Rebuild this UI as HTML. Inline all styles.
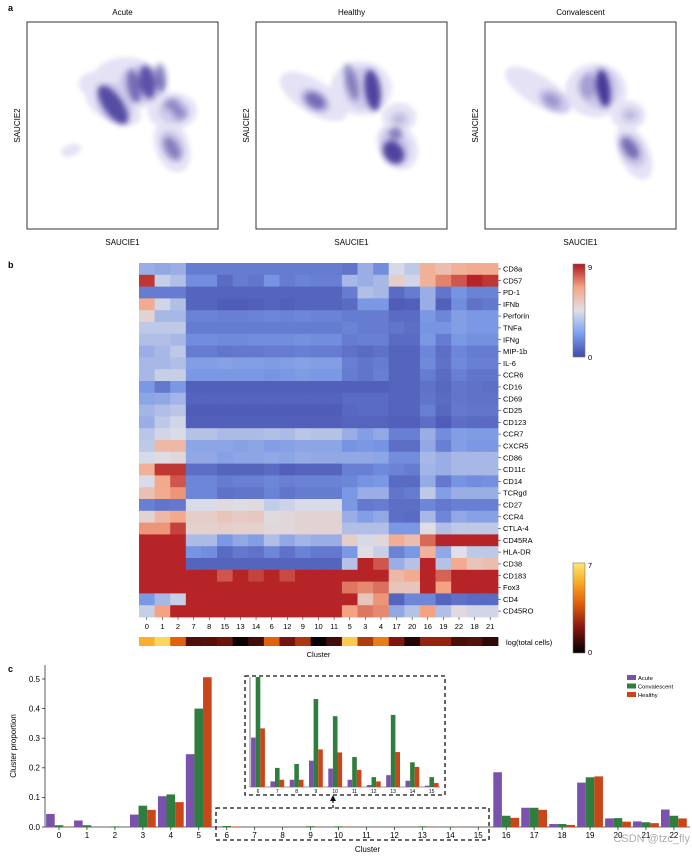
<!DOCTYPE html>
<html><head><meta charset="utf-8">
<style>
html,body{margin:0;padding:0;background:#fff;}
svg{display:block;font-family:"Liberation Sans",Arial,sans-serif;}
</style></head>
<body>
<svg id="fig" width="692" height="856" viewBox="0 0 692 856" xmlns="http://www.w3.org/2000/svg">
<defs>
<filter id="blurH" x="-50%" y="-50%" width="200%" height="200%"><feGaussianBlur stdDeviation="2.5"/></filter>
<filter id="blurC" x="-50%" y="-50%" width="200%" height="200%"><feGaussianBlur stdDeviation="3"/></filter>
<linearGradient id="cwGrad" x1="0" y1="1" x2="0" y2="0">
<stop offset="0" stop-color="#3f4aa8"/><stop offset="0.25" stop-color="#7b9ff0"/><stop offset="0.5" stop-color="#dedfe8"/><stop offset="0.75" stop-color="#f5a584"/><stop offset="1" stop-color="#b0171f"/>
</linearGradient>
<linearGradient id="hotGrad" x1="0" y1="1" x2="0" y2="0">
<stop offset="0" stop-color="#000000"/><stop offset="0.3" stop-color="#8b1a10"/><stop offset="0.55" stop-color="#e0600a"/><stop offset="0.78" stop-color="#f9a825"/><stop offset="1" stop-color="#ffe870"/>
</linearGradient>
</defs>
<text x="8" y="11" font-size="9" font-weight="bold">a</text>
<text x="8" y="268" font-size="9" font-weight="bold">b</text>
<text x="8" y="672" font-size="9" font-weight="bold">c</text>
<g id="density"></g>
<g id="heatmap"></g>
<g id="bars"></g>
</svg>
<script>
const NS="http://www.w3.org/2000/svg";
function mk(tag,attrs,parent,text){const e=document.createElementNS(NS,tag);for(const k in attrs)e.setAttribute(k,attrs[k]);if(text!==undefined)e.textContent=text;parent.appendChild(e);return e;}

/* ---------- Panel a: density plots ---------- */
const panelTitles=["Acute","Healthy","Convalescent"];
const panelX=[27,256,485];
/* [fx, fy, rx, ry, rot] */
const haloAcute=[[0.52,0.30,0.19,0.13,0],[0.45,0.40,0.16,0.08,30],[0.36,0.30,0.09,0.06,0],[0.76,0.43,0.13,0.09,0],[0.76,0.60,0.09,0.13,-20],[0.23,0.62,0.055,0.028,-20]];
const midAcute=[[0.46,0.39,0.09,0.1,-35],[0.6,0.3,0.12,0.09,0],[0.77,0.43,0.08,0.06,0],[0.76,0.6,0.06,0.08,-25]];
const coreAcute=[[0.45,0.40,0.05,0.11,-35,0.75],[0.56,0.31,0.035,0.08,-10,0.55],[0.63,0.29,0.04,0.08,-10,0.7],[0.7,0.27,0.03,0.07,-5,0.5],[0.76,0.40,0.04,0.03,0,0.35],[0.8,0.44,0.035,0.03,0,0.35],[0.76,0.61,0.035,0.06,-30,0.45]];
const haloHealthy=[[0.3,0.36,0.2,0.08,32],[0.55,0.32,0.16,0.13,0],[0.75,0.46,0.09,0.07,0],[0.74,0.6,0.1,0.12,-30]];
const midHealthy=[[0.31,0.38,0.09,0.05,32],[0.56,0.32,0.1,0.1,0],[0.73,0.6,0.07,0.09,-30]];
const coreHealthy=[[0.31,0.38,0.06,0.035,32,0.55],[0.5,0.29,0.03,0.09,-15,0.45],[0.61,0.33,0.04,0.1,-8,0.8],[0.75,0.47,0.04,0.03,0,0.2],[0.72,0.63,0.05,0.06,-35,0.8],[0.73,0.54,0.035,0.03,-30,0.45]];
const haloConv=[[0.28,0.33,0.2,0.07,32],[0.58,0.33,0.16,0.13,0],[0.75,0.45,0.09,0.07,0],[0.78,0.63,0.08,0.14,-25]];
const midConv=[[0.36,0.38,0.09,0.05,32],[0.6,0.32,0.1,0.1,0],[0.77,0.62,0.06,0.09,-30]];
const coreConv=[[0.35,0.38,0.05,0.03,32,0.3],[0.62,0.32,0.035,0.09,-8,0.85],[0.54,0.31,0.05,0.06,0,0.25],[0.76,0.45,0.04,0.03,0,0.2],[0.76,0.61,0.035,0.06,-35,0.55]];
const allHalo=[haloAcute,haloHealthy,haloConv],allMid=[midAcute,midHealthy,midConv],allCore=[coreAcute,coreHealthy,coreConv];
const dG=document.getElementById('density');
panelTitles.forEach((t,i)=>{
  const x0=panelX[i],y0=22,w=191,h=207;
  const g=mk('g',{},dG);
  
  
  const title=mk('text',{x:x0+w/2,y:15,'font-size':8,'text-anchor':'middle'},g,t);
  
  
  function layer(list,op,filt,col){
    const lg=mk('g',{filter:filt,opacity:op},g);
    list.forEach(b=>{
      const cx=x0+b[0]*w,cy=y0+b[1]*h;
      const el=mk('ellipse',{cx:cx,cy:cy,rx:b[2]*w,ry:b[3]*h,fill:col,'fill-opacity':b.length>5?b[5]:1,transform:`rotate(${b[4]} ${cx} ${cy})`},lg);
      
      
    });
  }
  layer(allHalo[i],0.16,'url(#blurH)','#5b4fc0');
  layer(allMid[i],0.14,'url(#blurH)','#4a3cb0');
  layer(allCore[i],1,'url(#blurC)','#2e1f8c');
  const box=mk('rect',{x:x0,y:y0,width:w,height:h,fill:'none',stroke:'#333','stroke-width':1},g);
  
  
  const xl=mk('text',{x:x0+w/2,y:245,'font-size':8,'text-anchor':'middle'},g,'SAUCIE1');
  
  
  const yl=mk('text',{x:0,y:0,'font-size':8,'text-anchor':'middle',transform:`translate(${x0-7},${y0+h/2}) rotate(-90)`},g,'SAUCIE2');
  
  
});

/* ---------- Panel b: heatmap ---------- */
const hmClusters=["0","1","2","7","8","15","13","14","6","12","9","10","11","5","3","4","17","20","16","19","22","18","21"];
const hmMarkers=["CD8a","CD57","PD-1","IFNb","Perforin","TNFa","IFNg","MIP-1b","IL-6","CCR6","CD16","CD69","CD25","CD123","CCR7","CXCR5","CD86","CD11c","CD14","TCRgd","CD27","CCR4","CTLA-4","CD45RA","HLA-DR","CD38","CD183","Fox3","CD4","CD45RO"];
const hmValues=[
[3,2.8,3,1.5,1.5,1.5,1.5,1.5,1.5,1.5,1.5,1.5,1.5,1.3,3,2,4.3,3.8,6.3,5.8,6.3,6.5,6.5],
[8.5,4,3.5,2,2,1,1.5,1.3,2.2,1.5,1.7,1.6,1.6,3.3,3,3.3,5.2,4.2,6.3,7.3,8,8.8,8.5],
[1.5,1.5,1.5,0.8,0.8,0.8,0.8,0.8,0.8,0.8,0.8,0.8,0.8,1.5,3.5,3.3,1,1.5,3,1.3,2.2,1.7,1.7],
[6.5,4.2,3.5,0.8,0.8,0.6,0.6,0.7,0.8,0.7,0.8,0.8,0.8,1,2.3,2.3,0.6,0.7,3,0.7,2,1.2,1.4],
[5,3.3,3.3,1.7,1.7,1.6,1.6,1.7,1.8,1.7,1.8,1.7,1.7,1.5,1.5,1.5,1,1,2.3,1.8,2.5,2.3,2.3],
[3.8,3.8,3.8,1.5,1.5,1.5,1.5,1.5,1.5,1.5,1.5,1.5,1.5,1.7,1.5,1.5,1.3,1.1,2.2,2.2,2.5,2.3,2.3],
[3.5,3.5,3.3,2,2,1.9,1.9,2,2,2,2.1,2,2,1.5,1.6,1.6,1,1,2.3,1.5,2.3,2.1,2.1],
[3,3.3,3.8,1.5,1.5,1.3,1.4,1.4,1.5,1.5,1.6,1.5,1.5,1.2,1,1.2,0.8,0.8,1.8,1.1,1.8,1.5,1.5],
[3.3,3.3,3.5,2.5,2.5,2.6,2.5,2.5,2.4,2.5,2.6,2.5,2.5,1.6,1.3,1.5,0.8,0.8,1.9,1.2,1.9,1.6,1.6],
[3.3,4,4,2.3,2.3,2.3,2.3,2.3,2.2,2.3,2.4,2.3,2.3,1.5,1.3,1.6,0.8,0.8,1.5,1,1.6,1.3,1.3],
[2.3,1.4,2.3,0.7,0.7,0.7,0.7,0.7,0.7,0.7,0.7,0.7,0.7,0.7,0.7,0.7,0.8,0.8,1.2,0.9,1.3,1.2,1.1],
[2.7,2.8,3.2,0.8,0.8,0.8,0.8,0.8,0.8,0.8,0.8,0.8,0.8,1,1,1,0.8,0.8,1.3,1,1.3,1.2,1.2],
[3.2,3.5,3.7,0.6,0.6,0.6,0.6,0.6,0.6,0.6,0.6,0.6,0.6,0.9,1,1,0.8,0.8,1.6,0.9,1.4,1.3,1.3],
[3,3.8,4.2,0.7,0.7,0.7,0.7,0.7,0.7,0.7,0.7,0.7,0.7,0.8,0.8,0.8,0.7,0.7,1.1,0.6,1.1,1,1],
[3.7,4.2,4.4,3.6,3.6,3.4,3.4,3.4,3.5,3.4,3.7,3.6,3.6,3,2.5,2.8,1.6,1.6,3,2,2.5,2.4,2.4],
[3.8,6,6,2.7,2.7,2.7,2.6,2.7,2.5,2.6,2.7,2.7,2.7,2.2,2.3,2.2,1.1,1.1,2.8,1.6,2.5,2.3,2.3],
[4.3,4.6,4.8,2.8,2.8,2.6,2.7,2.7,2.8,2.7,2.9,2.8,2.8,2.8,2.8,2.7,2,2,3.3,3,3.3,3.3,3.3],
[6.3,8.5,8.5,1.1,1.1,0.8,0.8,0.8,1,0.7,0.8,0.8,0.8,1.6,1.6,1.9,1.7,1.5,3.2,3,3.3,3.3,3.3],
[4.4,6.6,8,1.8,1.8,1.5,1.6,1.6,1.8,1.6,1.7,1.7,1.7,1.8,2.2,2.3,1,1,2.9,1.4,2.2,2,2.1],
[5.7,6.5,7,1.8,1.8,1.2,1.3,1.3,1.7,1.3,1.5,1.5,1.5,2.3,3,3,1.3,1.5,3.8,2.5,3,3,3],
[1.6,1.3,1.4,4.4,4.4,4.7,4.6,4.7,3.9,4.1,4.4,4.4,4.4,2.3,1.4,1.5,1.1,1.1,1.8,1.4,1.6,1.6,1.6],
[5,6,6.6,5.2,5.2,5.5,5.3,5.4,4.7,4.8,5,5,5,3,2.5,2.8,1.1,1,3.3,1.8,2.8,2.6,2.6],
[7,7,8.3,5.1,5.1,5.2,5.1,5.1,4.8,4.8,5,5,5,3.5,3.5,3.5,2.3,2.3,4.6,3.5,3.8,3.8,3.8],
[8.8,8.8,8.8,3.4,3.4,2.3,2.8,2.5,3.5,2.8,3.2,3,3,5.2,4.3,4.8,6.4,5.8,7.7,8.8,8.8,8.8,8.8],
[8.8,8.8,8.8,2.2,2,1,1.4,1.2,1.8,1.2,1.7,1.4,1.4,2.3,4.6,4,1.7,2.3,6.2,2.8,4.5,3.8,3.8],
[8.8,8.8,8.8,0.8,0.8,0.8,0.8,0.8,0.8,0.8,0.8,0.8,0.8,3.6,8.8,8,3,3.6,8.8,3.6,6.5,5.5,5.8],
[8.8,8.8,8.8,8.8,8.8,8,8.8,8.3,8.8,8.2,8.8,8.8,8.8,8.8,8.8,8.8,6,6.5,8.8,7.8,8.8,8.8,8.8],
[8.8,8.8,8.8,8.8,8.8,8.8,8.8,8.8,8.8,8.8,8.8,8.8,8.8,7.5,7.2,7.6,5.5,5.5,8.8,6.8,8.8,8.8,8.8],
[2.3,3.3,4,8.8,8.8,8.8,8.8,8.8,8.8,8.8,8.8,8.8,8.8,8.8,5.5,7,0.8,1.8,1.8,0.8,1.2,1,1],
[4,6.8,8.8,8.8,8.8,8.8,8.8,8.8,8.8,8.8,8.8,8.8,8.8,6.8,7.5,7.2,2.8,3.6,6.8,3.5,4.7,4.2,4.2]
];
const hmLogCells=[5.6,6.6,3.9,1.2,1.3,1.6,0.2,1.0,3.9,1.7,2.8,0.1,1.0,6.3,2.9,4.5,1.9,0.5,2.3,2.3,1.1,1.3,0.7];
const hmMax=9, logMax=7;
function lerpStops(stops,t){t=Math.max(0,Math.min(1,t));for(let i=1;i<stops.length;i++){if(t<=stops[i][0]){const a=stops[i-1],b=stops[i];const f=(t-a[0])/(b[0]-a[0]);const c=[0,1,2].map(k=>Math.round(a[1][k]+(b[1][k]-a[1][k])*f));return `rgb(${c[0]},${c[1]},${c[2]})`;}}return 'rgb(0,0,0)';}
const cw=[[0,[66,72,168]],[0.25,[120,150,228]],[0.5,[222,223,232]],[0.75,[245,165,132]],[1,[176,23,31]]];
const hot=[[0,[0,0,0]],[0.3,[139,26,16]],[0.55,[224,96,10]],[0.78,[249,168,37]],[1,[255,232,112]]];
const hG=document.getElementById('heatmap');
const hx0=139,hy0=263,hw=359,hh=354;
const nR=hmMarkers.length,nC=hmClusters.length;
const cellW=hw/nC,cellH=hh/nR;
function hmX(c){return hx0+c*cellW;}
function hmY(r){return hy0+r*cellH;}
hmValues.forEach((row,r)=>{
  row.forEach((v,c)=>{
    const rc=mk('rect',{x:hmX(c),y:hmY(r),width:cellW+0.4,height:cellH+0.4,fill:lerpStops(cw,v/hmMax)},hG);
    
    
  });
});
hmMarkers.forEach((m,r)=>{
  const y=hmY(r)+cellH/2;
  mk('line',{x1:hx0+hw,x2:hx0+hw+3,y1:y,y2:y,stroke:'#333','stroke-width':0.6},hG);
  const t=mk('text',{x:hx0+hw+5,y:y+2.6,'font-size':7.5},hG,m);
  
  
});
hmClusters.forEach((c,i)=>{
  const x=hmX(i)+cellW/2;
  mk('line',{x1:x,x2:x,y1:hy0+hh,y2:hy0+hh+3,stroke:'#333','stroke-width':0.6},hG);
  const t=mk('text',{x:x,y:hy0+hh+12,'font-size':7.5,'text-anchor':'middle'},hG,c);
  
  
  const rc=mk('rect',{x:hmX(i),y:637,width:cellW+0.4,height:9,fill:lerpStops(hot,hmLogCells[i]/logMax)},hG);
  
  
});
{
  const t=mk('text',{x:hx0+hw+8,y:645,'font-size':7.5},hG,'log(total cells)');
  
  
  const t2=mk('text',{x:hx0+hw/2,y:657,'font-size':7.5,'text-anchor':'middle'},hG,'Cluster');
  
  
  const cb1=mk('rect',{x:573,y:264,width:12,height:93,fill:'url(#cwGrad)',stroke:'#777','stroke-width':0.6},hG);
  
  
  mk('text',{x:588,y:270,'font-size':7.5},hG,'9');
  mk('text',{x:588,y:360,'font-size':7.5},hG,'0');
  const cb2=mk('rect',{x:573,y:563,width:12,height:90,fill:'url(#hotGrad)',stroke:'#777','stroke-width':0.6},hG);
  
  
  mk('text',{x:588,y:568,'font-size':7.5},hG,'7');
  mk('text',{x:588,y:655,'font-size':7.5},hG,'0');
}

/* ---------- Panel c: bar chart ---------- */
const barClusters=["0","1","2","3","4","5","6","7","8","9","10","11","12","13","14","15","16","17","18","19","20","21","22"];
const acuteVals=[0.044,0.022,0,0.042,0.104,0.246,0.0015,0.00017,0.00022,0.0008,0.00056,0.00022,0.00006,0.00036,0.00019,0.00004,0.185,0.065,0.010,0.150,0.029,0.019,0.059];
const convVals=[0.006,0.006,0.002,0.072,0.110,0.400,0.00334,0.00058,0.0007,0.00267,0.00215,0.00091,0.0003,0.00219,0.00075,0.0003,0.038,0.065,0.010,0.168,0.030,0.016,0.038];
const healthyVals=[0.001,0,0,0.058,0.084,0.506,0.00178,0.00022,0.00022,0.00114,0.00105,0.00052,0.00017,0.00106,0.00061,0.00012,0.031,0.058,0.007,0.171,0.018,0.013,0.029];
const yTicks=[0,0.1,0.2,0.3,0.4,0.5];
const insetClusters=["6","7","8","9","10","11","12","13","14","15"];
const seriesNames=["Acute","Convalescent","Healthy"];
const seriesColors=["#7b52ab","#2f7d3f","#c8461a"];
const seriesData=[acuteVals,convVals,healthyVals];
const bG=document.getElementById('bars');
const by0=827,byPer=296,bx0=59,bStep=27.95,bW=8.6;
function yS(v){return by0-v*byPer;}
function xS(i){return bx0+i*bStep;}
mk('line',{x1:45,x2:45,y1:665,y2:by0,stroke:'#333','stroke-width':0.8},bG);
mk('line',{x1:45,x2:690,y1:by0,y2:by0,stroke:'#333','stroke-width':0.8},bG);
yTicks.forEach(v=>{
  mk('line',{x1:42,x2:45,y1:yS(v),y2:yS(v),stroke:'#333','stroke-width':0.8},bG);
  const t=mk('text',{x:40,y:yS(v)+2.8,'font-size':8,'text-anchor':'end'},bG,v.toFixed(1));
  
  
});
{const t=mk('text',{x:0,y:0,'font-size':8,'text-anchor':'middle',transform:`translate(16,${(665+by0)/2}) rotate(-90)`},bG,'Cluster proportion');


const t2=mk('text',{x:(45+690)/2,y:852,'font-size':8,'text-anchor':'middle'},bG,'Cluster');

}
barClusters.forEach((c,i)=>{
  const x=xS(i);
  mk('line',{x1:x,x2:x,y1:by0,y2:by0+3,stroke:'#333','stroke-width':0.8},bG);
  const t=mk('text',{x:x,y:by0+11,'font-size':8,'text-anchor':'middle'},bG,c);
  
  
  seriesData.forEach((arr,s)=>{
    const v=arr[i];
    const r=mk('rect',{x:x-1.5*bW+s*bW,y:yS(v),width:bW,height:by0-yS(v),fill:seriesColors[s]},bG);
    
    
  });
});
/* inset */
const ix0=258,iStep=19.3,iy0=787,iBW=4.6,iMax=0.00334,iH=110;
function iyS(v){return iy0-v/iMax*iH;}
function ixS(k){return ix0+k*iStep;}
{const box=mk('rect',{x:245,y:676,width:200,height:119,fill:'none',stroke:'#111','stroke-width':1.3,'stroke-dasharray':'4,3'},bG);


mk('line',{x1:250,x2:440,y1:iy0,y2:iy0,stroke:'#333','stroke-width':0.6},bG);
mk('line',{x1:250,x2:250,y1:677,y2:iy0,stroke:'#333','stroke-width':0.6},bG);
const lb=mk('rect',{x:216,y:808,width:273,height:32,fill:'none',stroke:'#111','stroke-width':1.3,'stroke-dasharray':'4,3'},bG);


mk('line',{x1:333,x2:333,y1:808,y2:800,stroke:'#111','stroke-width':1.2,'stroke-dasharray':'3,2'},bG);
const ar=mk('path',{d:'M330,801 L333,795 L336,801 Z',fill:'#111'},bG);

}
insetClusters.forEach((c,k)=>{
  const i=barClusters.indexOf(c);
  const x=ixS(k);
  const t=mk('text',{x:x,y:iy0+6,'font-size':5,'text-anchor':'middle'},bG,c);
  
  
  seriesData.forEach((arr,s)=>{
    const v=arr[i];
    const r=mk('rect',{x:x-1.5*iBW+s*iBW,y:iyS(v),width:iBW,height:iy0-iyS(v),fill:seriesColors[s]},bG);
    
    
  });
});
seriesNames.forEach((n,s)=>{
  const y=675+s*8.5;
  const sw=mk('rect',{x:627,y:y,width:9,height:5,fill:seriesColors[s]},bG);
  
  
  const t=mk('text',{x:638,y:y+5,'font-size':5.8},bG,n);
  
  
});
{const w=mk('text',{x:690,y:842,'font-size':11,'text-anchor':'end',fill:'#999','fill-opacity':0.8},bG,'CSDN @tzc_fly');

}
</script>
</body></html>
